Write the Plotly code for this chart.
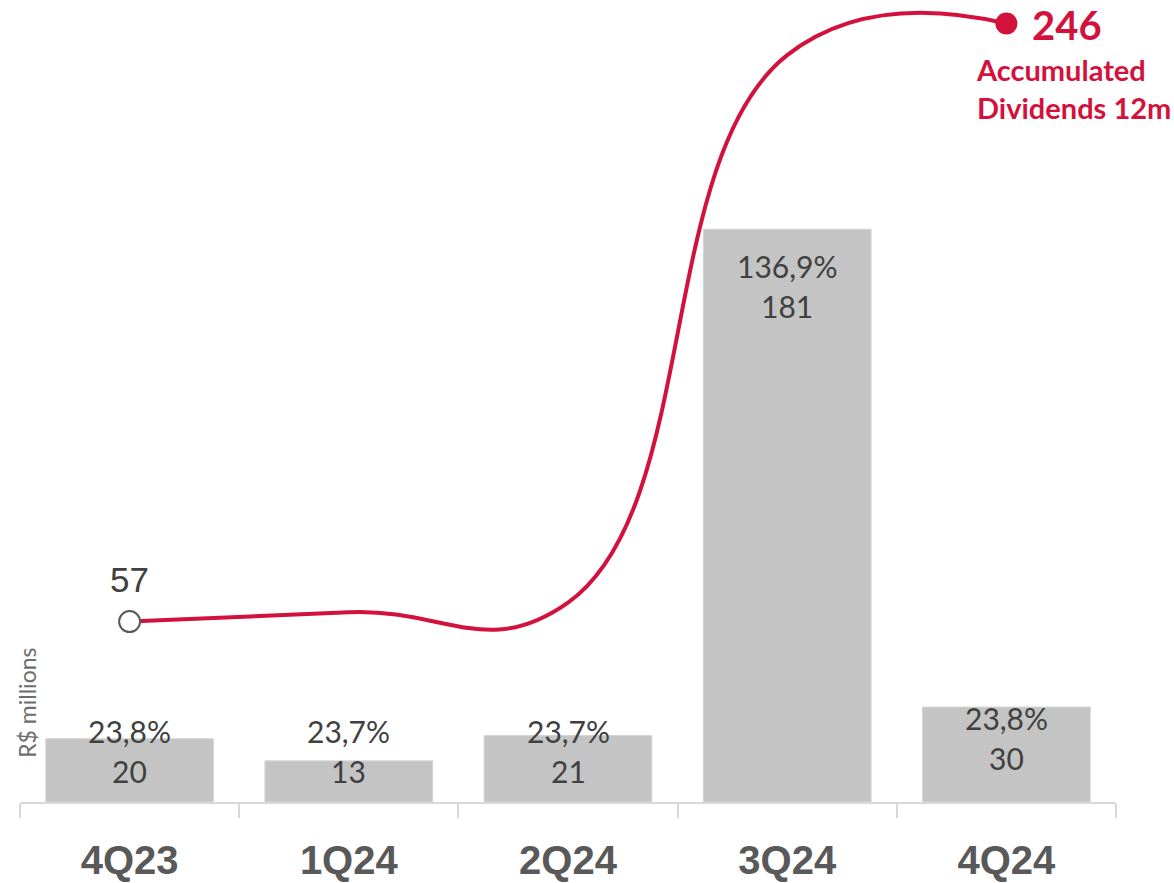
import plotly.graph_objects as go

# Quarterly dividends (R$ millions), payout ratio and trailing 12m accumulation
quarters = ["4Q23", "1Q24", "2Q24", "3Q24", "4Q24"]
dividends = [20, 13, 21, 181, 30]
payout_labels = ["23,8%", "23,7%", "23,7%", "136,9%", "23,8%"]
accumulated_12m = [57, 60, 63, 236, 246]

BAR_GRAY = "#C4C4C4"
CRIMSON = "#D2123C"
TEXT_DARK = "#404040"
AXIS_GRAY = "#D9D9D9"

fig = go.Figure()

fig.add_trace(go.Bar(
    x=quarters,
    y=dividends,
    marker=dict(color=BAR_GRAY, line=dict(color="#D4D4D4", width=1)),
    hoverinfo="skip",
    showlegend=False,
))

fig.add_trace(go.Scatter(
    x=quarters,
    y=accumulated_12m,
    mode="lines",
    line=dict(color=CRIMSON, width=4, shape="spline", smoothing=1.3),
    hoverinfo="skip",
    showlegend=False,
))

# start and end markers of the accumulated line
fig.add_trace(go.Scatter(
    x=[quarters[0]],
    y=[accumulated_12m[0]],
    mode="markers",
    marker=dict(size=21, color="white", line=dict(color="#595959", width=2)),
    hoverinfo="skip",
    showlegend=False,
))
fig.add_trace(go.Scatter(
    x=[quarters[-1]],
    y=[accumulated_12m[-1]],
    mode="markers",
    marker=dict(size=22, color=CRIMSON),
    hoverinfo="skip",
    showlegend=False,
))

annotations = []

# two-line labels in each bar: payout ratio above the dividend value
MIN_LABEL_BASE = 26
for q, v, pct in zip(quarters, dividends, payout_labels):
    base = max(v, MIN_LABEL_BASE)
    drop = -37 if v > 100 else -11
    annotations.append(dict(
        x=q, y=base, yshift=drop, text=pct, showarrow=False,
        yanchor="middle", font=dict(family="Lato", size=30, color=TEXT_DARK),
    ))
    annotations.append(dict(
        x=q, y=base, yshift=drop - 40, text=str(v), showarrow=False,
        yanchor="middle", font=dict(family="Lato", size=30, color=TEXT_DARK),
    ))

# value at the start of the accumulated line
annotations.append(dict(
    x=quarters[0], y=accumulated_12m[0], yshift=42, text=str(accumulated_12m[0]),
    showarrow=False, yanchor="middle",
    font=dict(family="Liberation Sans, Arial", size=35, color=TEXT_DARK),
))

# value and caption at the end of the accumulated line
annotations.append(dict(
    x=quarters[-1], y=accumulated_12m[-1], xshift=24, yshift=-1,
    text="<b>%d</b>" % accumulated_12m[-1], showarrow=False,
    xanchor="left", yanchor="middle",
    font=dict(family="Lato", size=40, color=CRIMSON),
))
annotations.append(dict(
    x=quarters[-1], y=accumulated_12m[-1], xshift=-32, yshift=-26,
    text="<b>Accumulated<br>Dividends 12m</b>", showarrow=False,
    xanchor="left", yanchor="top", align="left",
    font=dict(family="Lato", size=29, color=CRIMSON),
))

# unit caption along the left edge
annotations.append(dict(
    xref="paper", yref="paper", x=0.0064, y=0.124, text="R$ millions",
    textangle=-90, showarrow=False, xanchor="center", yanchor="middle",
    font=dict(family="Lato", size=23, color="#6E6E6E"),
))

fig.update_layout(
    width=1174,
    height=883,
    margin=dict(l=20, r=58, t=2, b=81),
    paper_bgcolor="white",
    plot_bgcolor="white",
    bargap=0.235,
    annotations=annotations,
    xaxis=dict(
        type="category",
        range=[-0.5, len(quarters) - 0.5],
        showline=True,
        linecolor=AXIS_GRAY,
        linewidth=2,
        ticks="outside",
        tickson="boundaries",
        ticklen=14,
        tickwidth=2,
        tickcolor=AXIS_GRAY,
        ticklabelstandoff=22,
        tickfont=dict(family="Liberation Sans, Arial", size=40, color="#595959", weight="bold"),
        showgrid=False,
        zeroline=False,
        fixedrange=True,
    ),
    yaxis=dict(
        visible=False,
        range=[0, 252.8],
        fixedrange=True,
    ),
)

fig.write_html("out.html")
